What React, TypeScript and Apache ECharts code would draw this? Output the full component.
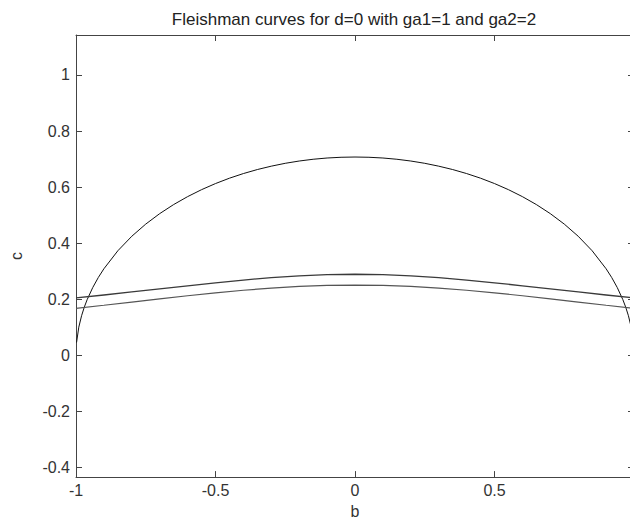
import React, { useEffect, useRef } from "react";
import * as echarts from "echarts";

const titleText = "Fleishman curves for d=0 with ga1=1 and ga2=2";
const xName = "b";
const yName = "c";

// ellipse curve (upper arc)
const bEllipse = [
  -0.998, -0.99, -0.98, -0.97, -0.96, -0.94, -0.92, -0.9, -0.85, -0.8, -0.75, -0.7, -0.65, -0.6,
  -0.55, -0.5, -0.45, -0.4, -0.35, -0.3, -0.25, -0.2, -0.15, -0.1, -0.05, 0, 0.05, 0.1, 0.15, 0.2,
  0.25, 0.3, 0.35, 0.4, 0.45, 0.5, 0.55, 0.6, 0.65, 0.7, 0.75, 0.8, 0.85, 0.9, 0.92, 0.94, 0.96,
  0.97, 0.98, 0.99, 0.998,
];
const cEllipse = [
  0.045, 0.0997, 0.1407, 0.1719, 0.198, 0.2412, 0.2771, 0.3082, 0.3725, 0.4243, 0.4677, 0.505,
  0.5374, 0.5657, 0.5906, 0.6124, 0.6315, 0.6481, 0.6624, 0.6745, 0.6847, 0.6928, 0.6991, 0.7036,
  0.7062, 0.7071, 0.7062, 0.7036, 0.6991, 0.6928, 0.6847, 0.6745, 0.6624, 0.6481, 0.6315, 0.6124,
  0.5906, 0.5657, 0.5374, 0.505, 0.4677, 0.4243, 0.3725, 0.3082, 0.2771, 0.2412, 0.198, 0.1719,
  0.1407, 0.0997, 0.045,
];

// flatter curves
const bCurve = [
  -1, -0.9, -0.8, -0.7, -0.6, -0.5, -0.4, -0.3, -0.2, -0.1, 0, 0.1, 0.2, 0.3, 0.4, 0.5, 0.6, 0.7,
  0.8, 0.9, 1,
];
const cUpper = [
  0.2041, 0.2146, 0.2254, 0.2365, 0.2475, 0.2582, 0.268, 0.2765, 0.2831, 0.2872, 0.2887, 0.2872,
  0.2831, 0.2765, 0.268, 0.2582, 0.2475, 0.2365, 0.2254, 0.2146, 0.2041,
];
const cLower = [
  0.1667, 0.1779, 0.1894, 0.2008, 0.2119, 0.2222, 0.2315, 0.2392, 0.2451, 0.2488, 0.25, 0.2488,
  0.2451, 0.2392, 0.2315, 0.2222, 0.2119, 0.2008, 0.1894, 0.1779, 0.1667,
];

const yTicks = [-0.4, -0.2, 0, 0.2, 0.4, 0.6, 0.8, 1];

const FONT = "'Liberation Sans', Arial, Helvetica, sans-serif";

export default function App() {
  const ref = useRef<HTMLDivElement>(null);
  useEffect(() => {
    if (!ref.current) return;
    const chart = echarts.init(ref.current, undefined, { renderer: "svg" });
    const axisColor = "#444";
    const pair = (xs: number[], ys: number[]) => xs.map((x, i) => [x, ys[i]]);
    chart.setOption({
      animation: false,
      backgroundColor: "#fff",
      title: {
        text: titleText,
        left: 349,
        textAlign: "center",
        top: 6,
        textStyle: { fontFamily: FONT, fontSize: 17, fontWeight: "normal", color: "#222" },
      },
      grid: { left: 68, right: 6, top: 35, bottom: 45, containLabel: false },
      xAxis: [
        {
          type: "value",
          min: -1,
          max: 1,
          interval: 0.5,
          name: xName,
          nameLocation: "middle",
          nameGap: 25,
          nameTextStyle: { fontFamily: FONT, fontSize: 16, color: "#333" },
          axisLine: { show: true, onZero: false, lineStyle: { color: axisColor, width: 1 } },
          axisTick: { show: true, inside: true, length: 6, lineStyle: { color: axisColor } },
          axisLabel: {
            fontFamily: FONT,
            fontSize: 16,
            color: "#333",
            margin: 5,
            showMaxLabel: false,
            formatter: (v: number) => String(Math.round(v * 10) / 10),
          },
          splitLine: { show: false },
        },
        {
          type: "value",
          position: "top",
          min: -1,
          max: 1,
          interval: 0.5,
          axisLine: { show: true, onZero: false, lineStyle: { color: axisColor, width: 1 } },
          axisTick: { show: true, inside: true, length: 6, lineStyle: { color: axisColor } },
          axisLabel: { show: false },
          splitLine: { show: false },
        },
      ],
      yAxis: [
        {
          type: "value",
          min: -0.4355,
          max: 1.1427,
          name: yName,
          nameLocation: "middle",
          nameGap: 52,
          nameRotate: 90,
          nameTextStyle: { fontFamily: FONT, fontSize: 16, color: "#333" },
          axisLine: { show: true, onZero: false, lineStyle: { color: axisColor, width: 1 } },
          axisTick: {
            show: true,
            inside: true,
            length: 6,
            customValues: yTicks,
            lineStyle: { color: axisColor },
          },
          axisLabel: {
            fontFamily: FONT,
            fontSize: 16,
            color: "#333",
            margin: 6,
            customValues: yTicks,
            formatter: (v: number) => String(Math.round(v * 10) / 10),
          },
          splitLine: { show: false },
        },
        {
          type: "value",
          position: "right",
          min: -0.4355,
          max: 1.1427,
          axisLine: { show: true, onZero: false, lineStyle: { color: axisColor, width: 1 } },
          axisTick: {
            show: true,
            inside: true,
            length: 6,
            customValues: yTicks,
            lineStyle: { color: axisColor },
          },
          axisLabel: { show: false },
          splitLine: { show: false },
        },
      ],
      series: [
        {
          name: "variance",
          type: "line",
          xAxisIndex: 0,
          yAxisIndex: 0,
          data: pair(bEllipse, cEllipse),
          showSymbol: false,
          lineStyle: { color: "#111", width: 1 },
        },
        {
          name: "kurtosis",
          type: "line",
          xAxisIndex: 0,
          yAxisIndex: 0,
          data: pair(bCurve, cUpper),
          showSymbol: false,
          lineStyle: { color: "#3a3a3a", width: 1.3 },
        },
        {
          name: "skewness",
          type: "line",
          xAxisIndex: 0,
          yAxisIndex: 0,
          data: pair(bCurve, cLower),
          showSymbol: false,
          lineStyle: { color: "#555", width: 1.2 },
        },
      ],
    });
    return () => chart.dispose();
  }, []);
  return (
    <div
      ref={ref}
      style={{ position: "fixed", left: 0, top: 0, width: 640, height: 524, background: "#fff" }}
    />
  );
}
